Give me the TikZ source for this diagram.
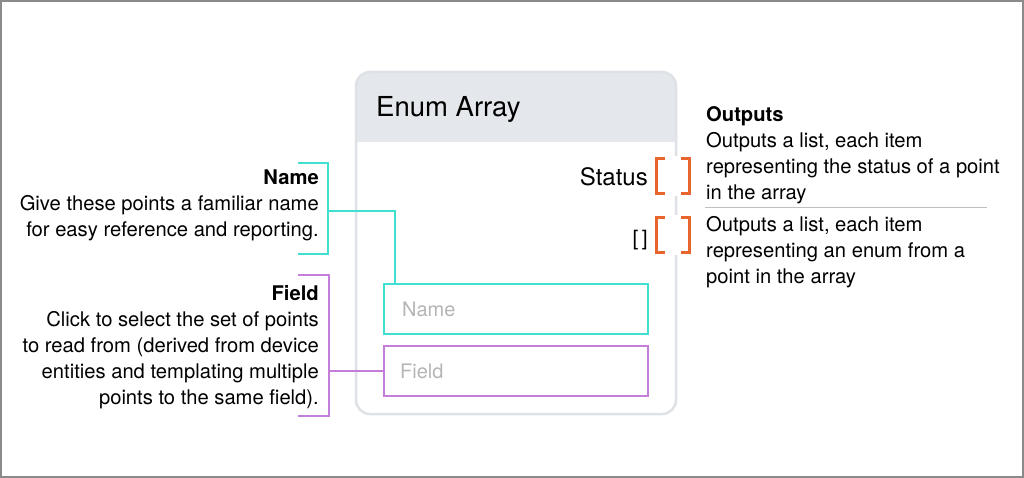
\documentclass[tikz,border=0pt]{standalone}
\usepackage{fontspec}
\setmainfont{TeX Gyre Heros}
\definecolor{cyanc}{HTML}{3FE0D0}
\definecolor{purplec}{HTML}{C57DDA}
\definecolor{orangec}{HTML}{E8652E}
\definecolor{cardgray}{HTML}{DEE1E5}
\definecolor{headfill}{HTML}{E4E7EB}
\definecolor{phgray}{HTML}{B5B5B5}
\definecolor{framegray}{HTML}{8A8A8A}
\tikzset{
  body/.style={font=\fontsize{20.2}{26}\selectfont, inner sep=0pt, text=black},
  lbl/.style={body, align=right, anchor=north east},
  rlbl/.style={body, align=left, anchor=north west},
  brk/.style={draw=orangec, line width=3.2pt},
  fieldbox/.style={line width=2pt, minimum width=264pt, minimum height=50pt, anchor=north west, inner sep=0pt},
  ph/.style={font=\fontsize{20}{22}\selectfont, text=phgray, anchor=west, inner sep=0pt},
}
\begin{document}
\begin{tikzpicture}[x=1pt,y=-1pt]
\useasboundingbox (0,0) rectangle (1024,478);
% outer frame
\draw[framegray, line width=2pt] (1,1) rectangle (1023,477);
% card
\begin{scope}
\clip[rounded corners=14pt] (356,72) rectangle (676,414);
\fill[headfill] (356,72) rectangle (676,142);
\end{scope}
\draw[cardgray, line width=2.5pt, rounded corners=14pt] (356,72) rectangle (676,414);
\node[anchor=base west, inner sep=0pt, font=\fontsize{27.5}{30}\selectfont] (title) at (376,117) {Enum Array};
% output labels
\node[anchor=base east, inner sep=0pt, font=\fontsize{24}{26}\selectfont] (status) at (648,186) {Status};
\node[anchor=base east, inner sep=0pt, font=\fontsize{21}{26}\selectfont] (arr) at (648,245) {[\,]};
% orange brackets with white gap
\fill[white] (655,156) rectangle (693,196);
\fill[white] (655,215) rectangle (693,255);
\node[minimum width=32pt, minimum height=34pt, inner sep=0pt] (b1) at (673,176) {};
\node[minimum width=32pt, minimum height=34pt, inner sep=0pt] (b2) at (673,235) {};
\draw[brk] ([xshift=8pt]b1.north west) -- (b1.north west) -- (b1.south west) -- ([xshift=8pt]b1.south west);
\draw[brk] ([xshift=-8pt]b1.north east) -- (b1.north east) -- (b1.south east) -- ([xshift=-8pt]b1.south east);
\draw[brk] ([xshift=8pt]b2.north west) -- (b2.north west) -- (b2.south west) -- ([xshift=8pt]b2.south west);
\draw[brk] ([xshift=-8pt]b2.north east) -- (b2.north east) -- (b2.south east) -- ([xshift=-8pt]b2.south east);
% input boxes
\node[fieldbox, draw=cyanc] (namebox) at (383,283) {};
\node[ph] at ([xshift=19pt]namebox.west) {Name};
\node[fieldbox, draw=purplec] (fieldbox) at (383,345) {};
\node[ph] at ([xshift=17pt]fieldbox.west) {Field};
% Name annotation
\node[lbl] (namelbl) at (319,169.5) {\textbf{Name}\\Give these points a familiar name\\for easy reference and reporting.};
\coordinate (nt) at (298,163);
\coordinate (nb) at (298,254);
\coordinate (nm) at (328,211);
\draw[cyanc, line width=2pt] (nt) -- (328,163) -- (328,254) -- (nb);
\draw[cyanc, line width=2pt] (nm) -| (namebox.north west -| 395,0);
% Field annotation
\node[lbl] (fieldlbl) at (319,285) {\textbf{Field}\\Click to select the set of points\\to read from (derived from device\\entities and templating multiple\\points to the same field).};
\coordinate (ft) at (298,275);
\coordinate (fb) at (298,416);
\draw[purplec, line width=1.6pt] (ft) -- (329,275) -- (329,416) -- (fb);
\draw[purplec, line width=1.6pt] (fieldbox.west -| 329,0) -- (fieldbox.west);
% Outputs annotation
\node[rlbl] (outlbl) at (706,106.5) {\textbf{Outputs}\\Outputs a list, each item\\representing the status of a point\\in the array};
\draw[gray!50, line width=0.8pt] (705,207) -- (987,207);
\node[rlbl] (out2) at (706,216) {Outputs a list, each item\\representing an enum from a\\point in the array};
\end{tikzpicture}
\end{document}
